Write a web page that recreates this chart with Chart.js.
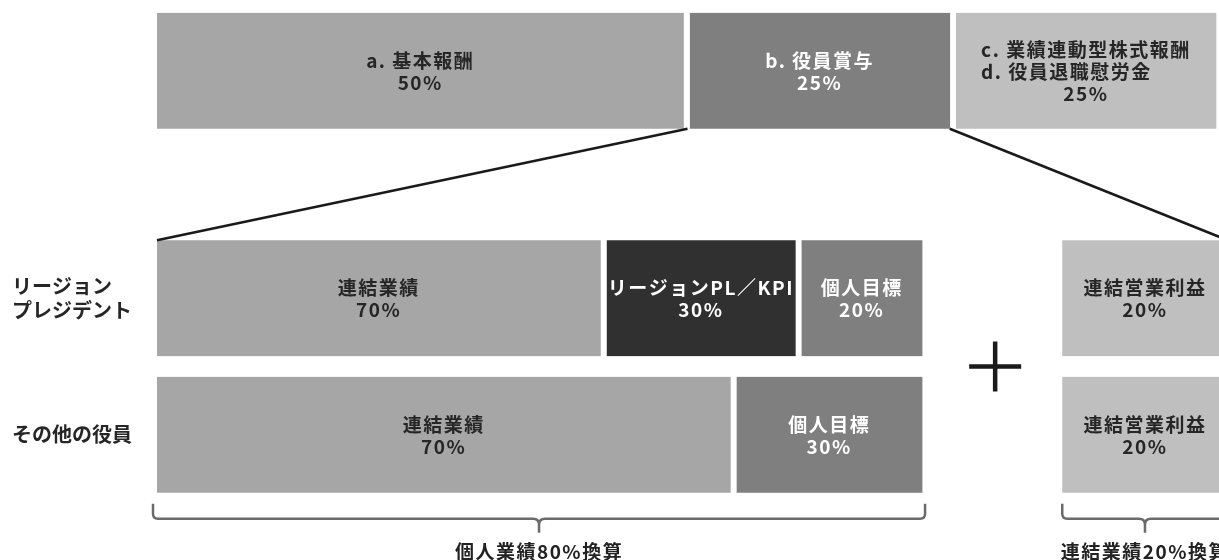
<!DOCTYPE html>
<html lang="ja">
<head>
<meta charset="utf-8">
<title>役員報酬の構成</title>
<script src="https://cdn.jsdelivr.net/npm/chart.js@4.4.1/dist/chart.umd.min.js"></script>
<style>
  body { margin: 0; overflow: hidden; background: #fff; }
  #chart-wrap { width: 1240px; height: 560px; }
</style>
</head>
<body>
<div id="chart-wrap"><canvas id="payChart" width="1240" height="560"></canvas></div>
<script>
// row names on the left (the top bar has none)
const rowNames = ['', ['リージョン', 'プレジデント'], 'その他の役員'];

// top bar: share of total pay
const payValues = [50, 25, 25];
const payText = [['a. 基本報酬', '50%'], ['b. 役員賞与', '25%'], ['c. 業績連動型株式報酬', 'd. 役員退職慰労金', '25%']];

// bonus breakdown, drawn lengths in the same units as the top bar
const presidentValues = [42.2, 18.3, 11.9];
const presidentText = [['連結業績', '70%'], ['リージョンPL／KPI', '30%'], ['個人目標', '20%']];
const officerValues = [54.4, 18];
const officerText = [['連結業績', '70%'], ['個人目標', '30%']];

// consolidated operating profit part, same for both rows
const groupValues = [16.1, 16.1];
const groupText = ['連結営業利益', '20%'];

const braceText = ['個人業績80%換算', '連結業績20%換算'];

// colours
const payColors = ['#a6a6a6', '#7f7f7f', '#bfbfbf'];
const payTextColors = ['#262626', '#ffffff', '#262626'];
const presidentColors = ['#a6a6a6', '#303030', '#7f7f7f'];
const presidentTextColors = ['#262626', '#ffffff', '#ffffff'];
const officerColors = ['#a6a6a6', '#7f7f7f'];
const officerTextColors = ['#262626', '#ffffff'];
const groupColor = '#bfbfbf';

// layout: which category slot each row sits in, and the empty space holding the "+"
const ROW_SLOT = [0, 5, 8];
const SLOT_COUNT = 9;
const PLUS_GAP = 12.6;
const FONT = '"Noto Sans CJK JP", "Noto Sans", sans-serif';
const TEXT_FONT = 'bold 19px ' + FONT;
const TEXT_SPACING = '1.5px';

/*
*   Builds one stacked dataset per segment, each one only filled on its own row
*/
const datasets = [];
function addSegment(row, value, text, color, textColor, role) {
  const data = new Array(SLOT_COUNT).fill(null);
  data[ROW_SLOT[row]] = value;
  datasets.push({
    data: data,
    row: row,
    role: role,
    segText: text,
    textColor: textColor,
    backgroundColor: color,
    borderColor: '#ffffff',
    borderWidth: text ? { left: 0, right: 6, top: 0, bottom: 0 } : 0,
    borderSkipped: false,
    barThickness: 116,
    clip: false
  });
}

payValues.forEach((v, i) => addSegment(0, v, payText[i], payColors[i], payTextColors[i], i === 1 ? 'bonus' : ''));
presidentValues.forEach((v, i) => addSegment(1, v, presidentText[i], presidentColors[i], presidentTextColors[i], i === 0 ? 'first' : ''));
addSegment(1, PLUS_GAP, null, 'rgba(0,0,0,0)', null, 'gap');
addSegment(1, groupValues[0], groupText, groupColor, '#262626', 'group1');
officerValues.forEach((v, i) => addSegment(2, v, officerText[i], officerColors[i], officerTextColors[i], i === 0 ? 'ofirst' : (i === officerValues.length - 1 ? 'olast' : '')));
addSegment(2, PLUS_GAP, null, 'rgba(0,0,0,0)', null, 'gap2');
addSegment(2, groupValues[1], groupText, groupColor, '#262626', 'group2');

const labels = new Array(SLOT_COUNT).fill('');
ROW_SLOT.forEach((s, i) => { labels[s] = rowNames[i]; });

/*
*   Finds the drawn bar of a segment by its role
*/
function barOf(chart, role) {
  const idx = chart.data.datasets.findIndex(d => d.role === role);
  const ds = chart.data.datasets[idx];
  const el = chart.getDatasetMeta(idx).data[ROW_SLOT[ds.row]];
  const p = el.getProps(['x', 'y', 'base', 'height'], true);
  const right = p.x - (ds.segText ? 6 : 0);
  return { left: p.base, right: right, top: p.y - p.height / 2, bottom: p.y + p.height / 2, y: p.y };
}

function drawBrace(ctx, x0, x1, yTop, label) {
  const yMid = yTop + 15;
  const cx = (x0 + x1) / 2;
  ctx.save();
  ctx.strokeStyle = '#6b6b6b';
  ctx.lineWidth = 2.5;
  ctx.beginPath();
  ctx.moveTo(x0, yTop);
  ctx.lineTo(x0, yMid - 5);
  ctx.quadraticCurveTo(x0, yMid, x0 + 5, yMid);
  ctx.lineTo(cx - 6, yMid);
  ctx.quadraticCurveTo(cx, yMid, cx, yMid + 6);
  ctx.lineTo(cx, yMid + 14);
  ctx.moveTo(cx, yMid + 6);
  ctx.quadraticCurveTo(cx, yMid, cx + 6, yMid);
  ctx.lineTo(x1 - 5, yMid);
  ctx.quadraticCurveTo(x1, yMid, x1, yMid - 5);
  ctx.lineTo(x1, yTop);
  ctx.stroke();

  ctx.fillStyle = '#222222';
  ctx.font = TEXT_FONT;
  ctx.letterSpacing = TEXT_SPACING;
  ctx.textAlign = 'center';
  ctx.textBaseline = 'middle';
  ctx.fillText(label, cx, yMid + 33);
  ctx.restore();
}

/*
*   Draws the texts inside the bars, the zoom lines, the plus sign and the braces
*/
const overlay = {
  id: 'overlay',
  afterDatasetsDraw(chart) {
    const ctx = chart.ctx;

    // texts inside bars
    chart.data.datasets.forEach((ds, i) => {
      if (!ds.segText) return;
      const el = chart.getDatasetMeta(i).data[ROW_SLOT[ds.row]];
      const p = el.getProps(['x', 'y', 'base'], true);
      const cx = (p.base + p.x - 6) / 2;
      const lines = ds.segText;
      const lh = 22;
      ctx.save();
      ctx.font = TEXT_FONT;
      ctx.letterSpacing = TEXT_SPACING;
      ctx.fillStyle = ds.textColor;
      ctx.textBaseline = 'middle';
      // all lines but the last start at the same left edge, the last one is centred
      const heads = lines.slice(0, -1);
      const blockW = Math.max(...heads.map(t => ctx.measureText(t).width));
      const y0 = p.y + 1 - (lines.length - 1) * lh / 2;
      ctx.textAlign = 'left';
      heads.forEach((t, k) => ctx.fillText(t, cx - blockW / 2, y0 + k * lh));
      ctx.textAlign = 'center';
      ctx.fillText(lines[lines.length - 1], cx, y0 + (lines.length - 1) * lh);
      ctx.restore();
    });

    const bonus = barOf(chart, 'bonus');
    const first = barOf(chart, 'first');
    const group1 = barOf(chart, 'group1');
    const gap = barOf(chart, 'gap');
    const ofirst = barOf(chart, 'ofirst');
    const olast = barOf(chart, 'olast');
    const group2 = barOf(chart, 'group2');

    // lines from the bonus bar to the breakdown
    ctx.save();
    ctx.strokeStyle = '#1a1a1a';
    ctx.lineWidth = 2.5;
    ctx.beginPath();
    ctx.moveTo(bonus.left - 2, bonus.bottom);
    ctx.lineTo(first.left, first.top);
    ctx.moveTo(bonus.right, bonus.bottom);
    ctx.lineTo(group1.right, group1.top);
    ctx.stroke();

    // plus sign
    const px = (gap.left + gap.right) / 2;
    const py = (gap.bottom + ofirst.top) / 2;
    ctx.lineWidth = 4.5;
    ctx.beginPath();
    ctx.moveTo(px - 26, py);
    ctx.lineTo(px + 26, py);
    ctx.moveTo(px, py - 25);
    ctx.lineTo(px, py + 25);
    ctx.stroke();
    ctx.restore();

    // braces under the bottom row
    drawBrace(ctx, ofirst.left - 4, olast.right + 3, ofirst.bottom + 11, braceText[0]);
    drawBrace(ctx, group2.left, group2.right, group2.bottom + 11, braceText[1]);
  }
};

Chart.defaults.font.family = FONT;

new Chart(document.getElementById('payChart'), {
  type: 'bar',
  data: { labels: labels, datasets: datasets },
  options: {
    indexAxis: 'y',
    responsive: false,
    animation: false,
    layout: { padding: { left: 12, top: 48, right: 18, bottom: 102.5 } },
    plugins: {
      legend: { display: false },
      tooltip: { enabled: false }
    },
    scales: {
      x: {
        stacked: true,
        min: 0,
        max: 100,
        display: false
      },
      y: {
        stacked: true,
        grid: { display: false },
        border: { display: false },
        afterFit: scale => { scale.width = 145; },
        ticks: {
          autoSkip: false,
          crossAlign: 'far',
          color: '#262626',
          font: { size: 20, weight: 'bold', lineHeight: 1.2 }
        }
      }
    }
  },
  plugins: [overlay]
});
</script>
</body>
</html>
